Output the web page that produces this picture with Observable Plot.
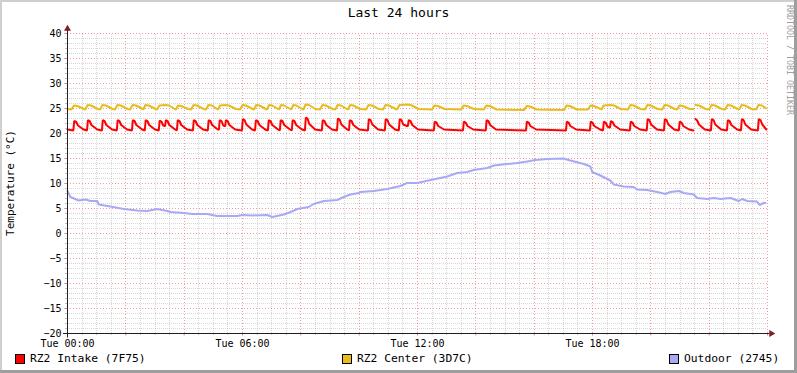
<!DOCTYPE html>
<html><head><meta charset="utf-8">
<script src="https://cdn.jsdelivr.net/npm/d3@7"></script>
<script src="https://cdn.jsdelivr.net/npm/@observablehq/plot@0.6"></script>
<style>
html,body{margin:0;padding:0;background:#fff;}
#chart{position:relative;width:797px;height:373px;background:#fff;overflow:hidden;
  font-family:"DejaVu Sans Mono",monospace;color:#000;}
#chart svg{position:absolute;left:0;top:0;}
.shadeA{position:absolute;background:#cfcfcf;}
.shadeB{position:absolute;background:#9e9e9e;}
.txt{position:absolute;white-space:nowrap;}
.sw{position:absolute;width:8px;height:8px;border:1px solid #000;}
</style>
</head><body>
<div id="chart">
  <div class="shadeA" style="left:0;top:0;width:797px;height:2px"></div>
  <div class="shadeA" style="left:0;top:0;width:2px;height:373px"></div>
  <div class="shadeB" style="left:0;top:370px;width:797px;height:3px"></div>
  <div class="shadeB" style="left:794px;top:0;width:3px;height:373px"></div>
</div>
<script>
// ---- data (hours since Tue 00:00, °C) ----
const title = "Last 24 hours";
const yTitle = "Temperature (°C)";
const watermark = "RRDTOOL / TOBI OETIKER";
const seriesNames = ["RZ2 Intake (7F75)", "RZ2 Center (3D7C)", "Outdoor (2745)"];
const seriesColors = ["#ff0000", "#e8bc1c", "#a8a8f4"];
const xTickHours = [0, 6, 12, 18];
const xTickLabels = ["Tue 00:00", "Tue 06:00", "Tue 12:00", "Tue 18:00"];
const yTicks = [-20, -15, -10, -5, 0, 5, 10, 15, 20, 25, 30, 35, 40];

const intake = [
[0,20.8],
[0.20,20.6],[0.23,22.5],[0.30,22.3],[0.36,21.6],[0.55,20.8],
[0.67,20.6],[0.70,22.7],[0.76,22.5],[0.82,21.7],[1.02,20.8],
[1.18,20.6],[1.21,22.7],[1.27,22.5],[1.33,21.7],[1.53,20.8],
[1.69,20.6],[1.72,22.7],[1.78,22.5],[1.84,21.7],[2.04,20.8],
[2.21,20.6],[2.24,22.7],[2.30,22.5],[2.36,21.7],[2.56,20.8],
[2.65,20.6],[2.68,22.7],[2.74,22.5],[2.80,21.7],[3.00,20.8],
[3.13,20.6],[3.16,22.6],[3.22,22.4],[3.28,21.6],[3.33,21.5],
[3.35,21.5],[3.37,22.7],[3.43,22.5],[3.49,21.7],[3.69,20.8],
[3.75,20.6],[3.78,22.7],[3.84,22.5],[3.90,21.7],[4.10,20.8],
[4.30,20.6],[4.33,22.7],[4.39,22.5],[4.45,21.7],[4.65,20.8],
[4.81,20.6],[4.84,22.7],[4.90,22.5],[4.96,21.7],[5.13,20.9],
[5.19,20.7],[5.22,22.7],[5.28,22.5],[5.34,21.6],[5.39,21.5],
[5.41,21.5],[5.43,22.7],[5.49,22.5],[5.55,21.7],[5.75,20.8],
[5.98,20.6],[6.01,22.9],[6.07,22.7],[6.13,21.8],[6.33,20.8],
[6.43,20.6],[6.46,22.7],[6.52,22.5],[6.58,21.7],[6.78,20.8],
[6.87,20.6],[6.90,22.7],[6.96,22.5],[7.02,21.7],[7.22,20.8],
[7.28,20.6],[7.31,22.7],[7.37,22.5],[7.43,21.7],[7.63,20.8],
[7.69,20.6],[7.72,22.7],[7.78,22.5],[7.84,21.7],[8.04,20.8],
[8.14,20.6],[8.17,23.2],[8.23,23.0],[8.29,21.9],[8.49,20.8],
[8.72,20.6],[8.75,22.7],[8.81,22.5],[8.87,21.7],[9.07,20.8],
[9.24,20.6],[9.27,23.0],[9.33,22.8],[9.39,21.8],[9.59,20.8],
[9.65,20.6],[9.68,22.7],[9.74,22.5],[9.80,21.7],[10.00,20.8],
[10.30,20.6],[10.33,22.9],[10.39,22.7],[10.45,21.8],[10.65,20.8],
[10.88,20.6],[10.91,22.9],[10.97,22.7],[11.03,21.8],[11.23,20.8],
[11.36,20.6],[11.39,22.9],[11.45,22.7],[11.51,21.8],[11.64,21.5],
[11.67,21.5],[11.70,22.7],[11.76,22.5],[11.82,21.7],[12.02,20.8],
[12.56,20.6],[12.59,22.4],[12.65,22.2],[12.71,21.5],[12.91,20.8],
[13.56,20.6],[13.59,22.4],[13.65,22.2],[13.71,21.5],[13.91,20.8],
[14.34,20.6],[14.37,22.7],[14.43,22.5],[14.49,21.7],[14.69,20.8],
[15.72,20.6],[15.75,22.4],[15.81,22.2],[15.87,21.5],[16.07,20.8],
[17.09,20.6],[17.12,22.4],[17.18,22.2],[17.24,21.5],[17.44,20.8],
[17.91,20.6],[17.94,22.4],[18.00,22.2],[18.06,21.5],[18.26,20.8],
[18.36,20.6],[18.39,22.4],[18.45,22.2],[18.51,21.4],[18.58,21.2],
[18.60,21.2],[18.63,22.5],[18.69,22.3],[18.75,21.6],[18.95,20.8],
[19.28,20.6],[19.31,22.4],[19.37,22.2],[19.43,21.5],[19.63,20.8],
[19.86,20.6],[19.89,22.9],[19.95,22.7],[20.01,21.8],[20.21,20.8],
[20.45,20.6],[20.48,22.9],[20.54,22.7],[20.60,21.8],[20.80,20.8],
[20.96,20.6],[20.99,22.4],[21.05,22.2],[21.11,21.5],[21.31,20.8],
[21.46,20.6],[21.50,null],[21.53,22.9],[21.59,22.6],[21.65,21.8],[21.85,20.8],
[22.06,20.6],[22.09,22.9],[22.15,22.7],[22.21,21.8],[22.41,20.8],
[22.61,20.6],[22.64,22.7],[22.70,22.5],[22.76,21.7],[22.96,20.8],
[23.09,20.6],[23.12,22.9],[23.18,22.7],[23.24,21.8],[23.44,20.8],
[23.67,20.6],[23.70,22.9],[23.76,22.7],[23.82,21.8],[23.96,20.8]
];

const center = [
[0,24.9],
[0.14,24.8],[0.22,25.6],[0.34,25.5],[0.57,24.9],
[0.61,24.8],[0.69,25.7],[0.81,25.6],[1.04,24.9],
[1.12,24.8],[1.20,25.7],[1.32,25.6],[1.55,24.9],
[1.63,24.8],[1.71,25.7],[1.83,25.6],[2.06,24.9],
[2.15,24.8],[2.23,25.7],[2.35,25.6],[2.58,24.9],
[2.60,24.8],[2.67,25.7],[2.79,25.6],[3.02,24.9],
[3.07,24.8],[3.15,25.6],[3.36,25.7],[3.48,25.6],[3.68,24.9],
[3.72,24.8],[3.79,25.6],[3.90,25.5],[4.13,24.9],
[4.24,24.8],[4.32,25.7],[4.44,25.6],[4.67,24.9],
[4.75,24.8],[4.83,25.7],[4.95,25.6],[5.13,24.9],
[5.16,24.8],[5.23,25.6],[5.42,25.7],[5.54,25.6],[5.77,24.9],
[5.92,24.8],[6.00,25.7],[6.12,25.6],[6.35,24.9],
[6.40,24.8],[6.47,25.7],[6.58,25.6],[6.80,24.9],
[6.84,24.8],[6.91,25.7],[7.02,25.6],[7.22,24.9],
[7.25,24.8],[7.32,25.7],[7.43,25.6],[7.64,24.9],
[7.67,24.8],[7.74,25.7],[7.85,25.6],[8.05,24.9],
[8.09,24.8],[8.16,25.8],[8.28,25.7],[8.50,24.9],
[8.66,24.8],[8.74,25.7],[8.86,25.6],[9.09,24.9],
[9.18,24.8],[9.26,25.7],[9.38,25.6],[9.58,24.9],
[9.62,24.8],[9.69,25.7],[9.80,25.6],[10.03,24.9],
[10.24,24.8],[10.32,25.7],[10.44,25.6],[10.67,24.9],
[10.82,24.8],[10.90,25.7],[11.02,25.6],[11.25,24.9],
[11.30,24.8],[11.38,25.7],[11.69,25.8],[11.81,25.6],[12.04,24.9],
[12.50,24.8],[12.58,25.6],[12.70,25.5],[12.93,24.9],
[13.50,24.8],[13.58,25.6],[13.70,25.5],[13.93,24.9],
[14.28,24.8],[14.36,25.6],[14.48,25.5],[14.71,24.8],
[15.66,24.7],[15.74,25.5],[15.86,25.4],[16.09,24.8],
[17.03,24.7],[17.11,25.6],[17.23,25.5],[17.46,24.8],
[17.85,24.8],[17.93,25.6],[18.05,25.5],[18.28,24.9],
[18.31,24.8],[18.38,25.6],[18.62,25.7],[18.74,25.6],[18.97,24.9],
[19.22,24.8],[19.30,25.7],[19.42,25.6],[19.65,24.9],
[19.80,24.8],[19.88,25.7],[20.00,25.6],[20.23,24.9],
[20.39,24.8],[20.47,25.7],[20.59,25.6],[20.82,24.9],
[20.90,24.8],[20.98,25.6],[21.10,25.5],[21.33,24.9],
[21.46,24.9],[21.50,null],[21.53,25.7],[21.65,25.6],[21.88,24.9],
[22.00,24.8],[22.08,25.7],[22.20,25.6],[22.43,24.9],
[22.55,24.8],[22.63,25.7],[22.75,25.6],[22.98,24.9],
[23.03,24.8],[23.11,25.7],[23.23,25.6],[23.46,24.9],
[23.61,24.8],[23.69,25.7],[23.81,25.6],[23.96,25.0]
];

const outdoor = [
[0.00,8.5],[0.10,7.3],[0.38,6.6],[0.62,6.8],[0.79,6.5],[1.02,6.5],[1.07,5.8],
[1.47,5.4],[1.93,4.9],[2.39,4.6],[2.73,4.5],[3.08,4.9],[3.42,4.5],[3.53,4.3],
[3.99,4.1],[4.28,3.9],[4.79,3.9],[5.13,3.5],[5.82,3.5],[5.99,3.7],[6.33,3.6],
[6.85,3.7],[7.02,3.3],[7.42,3.8],[7.65,4.3],[7.88,4.9],[8.27,5.3],[8.44,5.9],
[8.79,6.5],[9.25,6.7],[9.47,7.3],[9.70,7.8],[9.99,8.1],[10.04,8.3],[10.50,8.5],
[10.96,8.9],[11.41,9.5],[11.64,10.1],[11.99,10.1],[12.45,10.7],[13.02,11.4],
[13.36,12.1],[13.70,12.3],[13.93,12.7],[14.39,13.1],[14.62,13.6],[15.07,13.9],
[15.42,14.1],[15.76,14.4],[16.04,14.7],[16.45,14.9],[17.01,15.0],[17.24,14.6],
[17.70,13.9],[17.93,13.4],[17.99,12.3],[18.27,11.6],[18.61,10.6],[18.73,9.8],
[19.07,9.4],[19.41,9.3],[19.53,8.8],[19.87,8.7],[20.22,8.3],[20.50,7.9],
[20.67,8.3],[20.96,8.5],[21.13,8.1],[21.47,7.8],[21.59,7.1],[21.93,6.9],
[22.16,7.1],[22.39,6.9],[22.73,7.1],[23.02,6.5],[23.13,6.9],[23.30,6.5],
[23.64,6.4],[23.73,5.7],[23.87,6.1],[23.93,6.1]
];

// ---- grid positions ----
const majorX = d3.range(0, 24.01, 2);
const minorX = d3.range(0.5, 24.01, 0.5).filter(h => h % 2 !== 0);
const majorY = d3.range(-20, 40.01, 5);
const minorY = d3.range(-19, 40, 1).filter(v => v % 5 !== 0);

const gridGray = "#9a9a9a", gridRed = "#de4f4f";
const X = d => d[0], Y = d => d[1];

const plot = Plot.plot({
  width: 797, height: 373,
  marginLeft: 67, marginRight: 30, marginTop: 33, marginBottom: 40,
  x: {domain: [0, 24]},
  y: {domain: [-20, 40]},
  style: {background: "transparent", fontFamily: "DejaVu Sans Mono", fontSize: "10px", color: "#000", overflow: "visible"},
  marks: [
    // minor grid
    Plot.ruleX(minorX, {y1: -20, y2: 40, stroke: gridGray, strokeOpacity: 0.4, strokeDasharray: "1,1", shapeRendering: "crispEdges"}),
    Plot.ruleY(minorY, {x1: 0, x2: 24, stroke: gridGray, strokeOpacity: 0.4, strokeDasharray: "1,1", shapeRendering: "crispEdges"}),
    // major grid
    Plot.ruleX(majorX, {y1: -20, y2: 40, stroke: gridRed, strokeOpacity: 0.55, strokeDasharray: "1,2", shapeRendering: "crispEdges"}),
    Plot.ruleY(majorY, {x1: 0, x2: 24, stroke: gridRed, strokeOpacity: 0.55, strokeDasharray: "1,2", shapeRendering: "crispEdges"}),
    // small tick marks outside the axes
    Plot.ruleX(minorX, {y1: -20, y2: -20.4, stroke: gridGray, strokeOpacity: 0.6}),
    Plot.ruleX(majorX, {y1: -20, y2: -20.5, stroke: gridRed, strokeOpacity: 0.7}),
    Plot.ruleY(minorY, {x1: 0, x2: -0.07, stroke: gridGray, strokeOpacity: 0.6}),
    Plot.ruleY(majorY, {x1: 0, x2: -0.09, stroke: gridRed, strokeOpacity: 0.7}),
    // series
    Plot.line(intake, {x: X, y: Y, stroke: seriesColors[0], strokeWidth: 2, strokeLinejoin: "miter"}),
    Plot.line(center, {x: X, y: Y, stroke: seriesColors[1], strokeWidth: 2, strokeLinejoin: "miter"}),
    Plot.line(outdoor, {x: X, y: Y, stroke: seriesColors[2], strokeWidth: 2, strokeLinejoin: "miter"}),
    // axes lines
    Plot.ruleY([-20], {x1: -0.14, x2: 24.08, stroke: "#1f1f1f"}),
    Plot.ruleX([0], {y1: -20.9, y2: 40.6, stroke: "#1f1f1f"}),
    // arrows
    Plot.dot([[24.13, -20]], {x: X, y: Y, symbol: "triangle", r: 2.6, fill: "#7f1f1f", stroke: null, rotate: 90}),
    Plot.dot([[0, 40.95]], {x: X, y: Y, symbol: "triangle", r: 2.6, fill: "#7f1f1f", stroke: null}),
    // tick labels
    Plot.axisY(yTicks, {tickSize: 0, tickPadding: 6, label: null, fontSize: 10}),
    Plot.axisX(xTickHours, {tickSize: 0, tickPadding: 6, label: null, fontSize: 10,
      tickFormat: d => xTickLabels[xTickHours.indexOf(d)]})
  ]
});
const chart = document.getElementById("chart");
chart.appendChild(plot);

function addText(text, css) {
  const el = document.createElement("div");
  el.className = "txt";
  el.textContent = text;
  Object.assign(el.style, css);
  chart.appendChild(el);
  return el;
}
// title
addText(title, {left: "0px", width: "797px", textAlign: "center", top: "6px", fontSize: "13px", lineHeight: "13px"});
// y title
addText(yTitle, {left: "10px", top: "183px", fontSize: "11px", lineHeight: "11px",
  transform: "translate(-50%,-50%) rotate(-90deg)"});
// watermark
addText(watermark, {left: "789px", top: "60px", fontSize: "8.3px", lineHeight: "9px", color: "#a0a0a0",
  transform: "translate(-50%,-50%) rotate(90deg)"});
// legend
const legendX = [15, 342, 669];
seriesNames.forEach((name, i) => {
  const sw = document.createElement("div");
  sw.className = "sw";
  sw.style.left = legendX[i] + "px";
  sw.style.top = "354px";
  sw.style.background = seriesColors[i];
  chart.appendChild(sw);
  addText(name, {left: (legendX[i] + 15) + "px", top: "353px", fontSize: "11.3px", lineHeight: "11px"});
});
</script>
</body></html>
